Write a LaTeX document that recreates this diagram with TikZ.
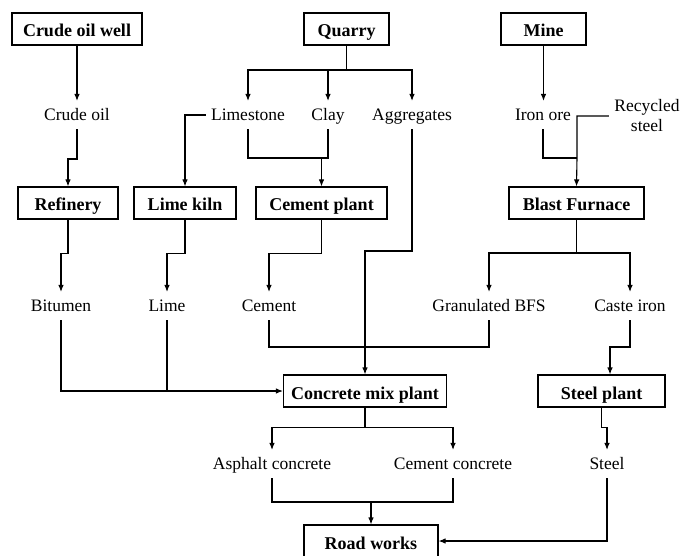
\documentclass[tikz,border=0pt]{standalone}
\usepackage{fontspec}
\setmainfont{Liberation Serif}
\usetikzlibrary{arrows.meta}

\begin{document}
\begin{tikzpicture}[x=1pt,y=-1pt,>={Latex[length=7pt,width=5.5pt]},line width=1.1pt,
    box/.style={draw,font=\fontsize{18}{20}\selectfont\bfseries,minimum height=32,inner sep=0pt,text height=16,text depth=0},
    lbl/.style={font=\fontsize{17.5}{20}\selectfont,inner sep=5pt,align=center,text height=14,text depth=3}]
    \useasboundingbox (0,0) rectangle (682,556);
    \foreach \n/\x/\y/\w/\t in {well/77/29/130/Crude oil well,quarry/346.5/29/85/Quarry,mine/543.5/29/85/Mine,
        refinery/68/203/100/Refinery,limekiln/185/203/102/Lime kiln,cementplant/321.5/203/131/Cement plant,
        blast/576.5/203/135/Blast Furnace,mix/365/391/163/Concrete mix plant,steelplant/601.5/391/127/Steel plant,
        road/371/541/134/Road works}
    {
        \node [box,minimum width=\w] (\n) at (\x,\y) {\t};
    }
    \foreach \n/\x/\y/\t in {crude/77/115/Crude oil,limestone/248/115/Limestone,clay/328/115/Clay,agg/412/115/Aggregates,
        ironore/543/115/Iron ore,
        bitumen/61/306/Bitumen,lime/167/306/Lime,cement/269/306/Cement,gbfs/489/306/Granulated BFS,caste/630/306/Caste iron,
        asphalt/272/464/Asphalt concrete,cconc/453/464/Cement concrete,steel/607/464/Steel}
    {
        \node [lbl] (\n) at (\x,\y) {\t};
    }
    \node [lbl,text height=,text depth=] (recycled) at (647,116) {Recycled\\steel};
    \coordinate (qsplit) at (346.5,70);
    \coordinate (cjoin) at (321.5,158);
    \coordinate (fjoin) at (577,158);
    \coordinate (aggturn) at (412,251);
    \coordinate (bsplit) at (576.5,253);
    \coordinate (sturn) at (610,347);
    \coordinate (rjoin) at (371,502);
    \draw [->] (well.south) -- (crude.north);
    \draw [->] (crude.south) -- ++(0,30) -| (refinery.north);
    \draw (quarry.south) -- (qsplit);
    \foreach \n in {limestone,clay,agg}
    {
        \draw [->] (qsplit) -| (\n.north);
    }
    \draw [->] (limestone.west) -| (limekiln.north);
    \draw (limestone.south) |- (cjoin) -| (clay.south);
    \draw [->] (cjoin) -- (cementplant.north);
    \draw [->] (agg.south) -- (aggturn) -| (mix.north);
    \draw [->] (mine.south) -- (mine.south |- ironore.north);
    \draw (ironore.south) |- (fjoin);
    \draw [->] (recycled.west) -| (fjoin) -- (blast.north);
    \draw (blast.south) -- (bsplit);
    \foreach \n in {gbfs,caste}
    {
        \draw [->] (bsplit) -| (\n.north);
    }
    \foreach \a/\b in {refinery/bitumen,limekiln/lime,cementplant/cement}
    {
        \draw [->] (\a.south) -- ++(0,34) -| (\b.north);
    }
    \draw (cement.south) |- (sturn -| cement) -| (gbfs.south);
    \draw [->] (caste.south) |- (sturn) -- (sturn |- steelplant.north);
    \draw [->] (bitumen.south) |- (mix.west);
    \draw (lime.south) -- (lime.south |- mix.west);
    \draw (mix.south) -- ++(0,20) coordinate (msplit);
    \foreach \n in {asphalt,cconc}
    {
        \draw [->] (msplit) -| (\n.north);
    }
    \draw [->] (steelplant.south) -- ++(0,20) -| (steel.north);
    \draw (asphalt.south) |- (rjoin) -| (cconc.south);
    \draw [->] (rjoin) -- (road.north);
    \draw [->] (steel.south) |- (road.east);
\end{tikzpicture}
\end{document}
